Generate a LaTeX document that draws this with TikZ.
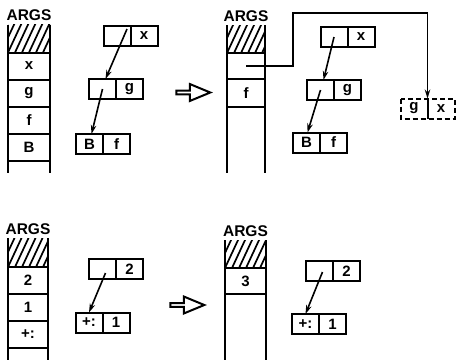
\documentclass[tikz,border=0pt]{standalone}
\usepackage{fontspec}
\setmainfont{Liberation Sans}
\usetikzlibrary{shapes.arrows, arrows.meta, positioning, calc}
\tikzset{
  st cell/.style={
    rectangle, draw=black, line width=2pt, outer sep=0pt, inner sep=0pt,
    minimum width=#1, minimum height=27pt,
    font=\fontsize{15}{15}\selectfont\bfseries
  },
  st cell/.default=42pt,
  st hatch/.style={
    rectangle, outer sep=0pt, inner sep=0pt,
    minimum width=#1, minimum height=28pt,
    path picture={
      \foreach \k in {0,...,9}
        \draw[line width=1.7pt]
          ([xshift=\k*7pt-14pt]path picture bounding box.south west) -- ++(14pt,30pt);
    }
  },
  st hatch/.default=42pt,
  st side/.style={line width=2pt},
  st title/.style={
    font=\fontsize{15.5}{15.5}\selectfont\bfseries, inner sep=0pt
  },
  cons half/.style={
    rectangle, draw=black, line width=2pt, outer sep=0pt, inner sep=0pt,
    minimum width=27pt, minimum height=20pt,
    font=\fontsize{15}{15}\selectfont\bfseries
  },
  cons ghost/.style={
    cons half, draw=none
  },
  ptr arrow/.style={
    -{Stealth[length=9pt,width=5.5pt]}, line width=1.6pt
  },
  then arrow/.style={
    single arrow, draw=black, line width=2pt, inner sep=0pt,
    minimum height=34pt, minimum width=17pt,
    single arrow head extend=3.5pt, single arrow tip angle=45
  }
}

\begin{document}
\begin{tikzpicture}[x=1pt, y=-1pt]
  \useasboundingbox (0,0) rectangle (456,360);

  % Top left: stack before
  \node (h1) [st hatch=42pt] at (29,38.5) {};
  \node (t1) [st title, above=4pt of h1] {ARGS};
  \node (x1) [st cell, below=0pt of h1] {x};
  \node (g1) [st cell, below=0pt of x1] {g};
  \node (f1) [st cell, below=0pt of g1] {f};
  \node (b1) [st cell, below=0pt of f1] {B};
  \draw [st side] (h1.north west) -- ++(0,148);
  \draw [st side] (h1.north east) -- ++(0,148);
  % cons cells
  \node (p1a) [cons half] at (117,36) {};
  \node (p1d) [cons half, right=0pt of p1a] {x};
  \node (q1a) [cons half] at (102.5,89) {};
  \node (q1d) [cons half, right=0pt of q1a] {g};
  \node (r1a) [cons half] at (89.5,144) {B};
  \node (r1d) [cons half, right=0pt of r1a] {f};
  \draw [ptr arrow] ($(p1a.center)+(10,-7)$) -- ($(q1a.north)+(3,0)$);
  \draw [ptr arrow] (q1a.center) -- ($(r1a.north)+(2,0)$);

  \node (then1) [then arrow] at (191,92.5) {};

  % Top right: stack after
  \node (h2) [st hatch=38pt] at (246,39) {};
  \node (t2) [st title, above=3pt of h2] {ARGS};
  \node (e2) [st cell=38pt, minimum height=26pt, below=0pt of h2] {};
  \node (f2) [st cell=38pt, minimum height=28pt, below=0pt of e2] {f};
  \draw [st side] (h2.north west) -- ++(0,148);
  \draw [st side] (h2.north east) -- ++(0,148);
  % cons cells
  \node (p2a) [cons half] at (334,37) {};
  \node (p2d) [cons half, right=0pt of p2a] {x};
  \node (q2a) [cons half] at (320.5,90) {};
  \node (q2d) [cons half, right=0pt of q2a] {g};
  \node (r2a) [cons half] at (306.5,142.5) {B};
  \node (r2d) [cons half, right=0pt of r2a] {f};
  \draw [ptr arrow] (p2a.center) -- ($(q2a.north)+(3,0)$);
  \draw [ptr arrow] (q2a.center) -- ($(r2a.north)+(1,0)$);
  % new cell
  \node (d2a) [cons ghost] at (414,108.5) {g};
  \node (d2d) [cons ghost, right=0pt of d2a] {x};
  \draw [line width=2pt, dash pattern=on 5pt off 3pt] (d2a.north west) rectangle (d2d.south east);
  \draw [line width=2pt] (d2a.north east) -- (d2a.south east);
  \coordinate (turn) at (293,13);
  \draw [ptr arrow] (e2.center) -| (turn) -| (d2a.north east);

  % Bottom left: stack before
  \node (h3) [st hatch=40pt, minimum height=29pt] at (28,252.5) {};
  \node (t3) [st title, above=3pt of h3] {ARGS};
  \node (n3) [st cell=40pt, below=0pt of h3] {2};
  \node (o3) [st cell=40pt, below=0pt of n3] {1};
  \node (s3) [st cell=40pt, below=0pt of o3] {+:};
  \draw [st side] (h3.north west) -- ++(0,122);
  \draw [st side] (h3.north east) -- ++(0,122);
  % cons cells
  \node (p3a) [cons half] at (102.5,269) {};
  \node (p3d) [cons half, right=0pt of p3a] {2};
  \node (q3a) [cons half] at (89,322.5) {+:};
  \node (q3d) [cons half, right=0pt of q3a] {1};
  \draw [ptr arrow] ($(p3a.center)+(3,4)$) -- (q3a.north);

  \node (then2) [then arrow] at (185,305) {};

  % Bottom right: stack after
  \node (h4) [st hatch=41pt] at (245.5,254) {};
  \node (t4) [st title, above=3pt of h4] {ARGS};
  \node (n4) [st cell=41pt, minimum height=26pt, below=0pt of h4] {3};
  \draw [st side] (h4.north west) -- ++(0,120);
  \draw [st side] (h4.north east) -- ++(0,120);
  % cons cells
  \node (p4a) [cons half] at (319.5,271) {};
  \node (p4d) [cons half, right=0pt of p4a] {2};
  \node (q4a) [cons half] at (305.5,324) {+:};
  \node (q4d) [cons half, right=0pt of q4a] {1};
  \draw [ptr arrow] ($(p4a.center)+(3,1)$) -- (q4a.north);
\end{tikzpicture}
\end{document}
